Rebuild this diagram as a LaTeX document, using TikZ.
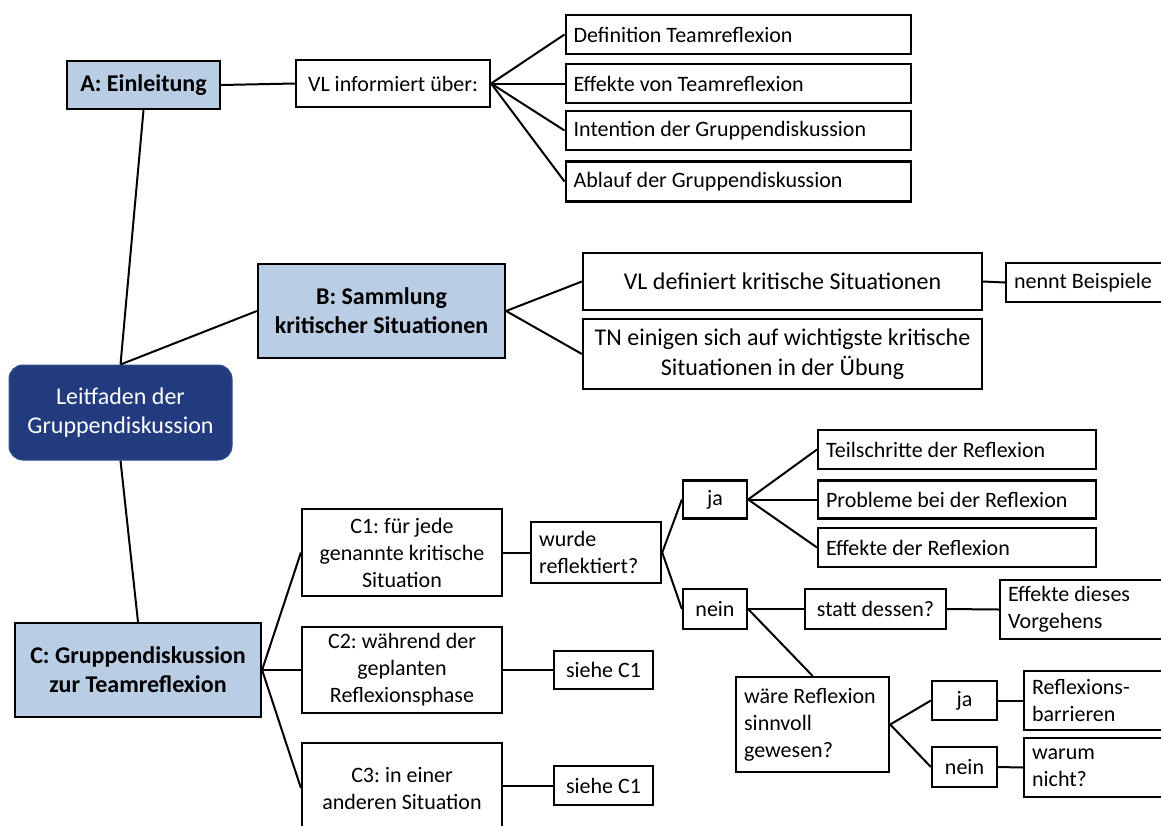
\documentclass[tikz,border=0pt]{standalone}
\usepackage{fontspec}
\setmainfont{Carlito}
\definecolor{headfill}{HTML}{B9CDE5}
\definecolor{rootfill}{HTML}{223A7E}
\definecolor{rootline}{HTML}{2F528F}
\begin{document}
\frenchspacing
\begin{tikzpicture}[x=1pt,y=-1pt,
  box/.style={draw=black, line width=2.2pt, fill=white, inner sep=0pt, align=flush center,
    font=\fontsize{22}{27}\selectfont},
  bigbox/.style={box, font=\fontsize{24}{29.5}\selectfont},
  headbox/.style={box, fill=headfill, font=\bfseries\fontsize{24}{29}\selectfont},
  rootbox/.style={draw=rootline, line width=1pt, fill=rootfill, rounded corners=14pt,
    inner sep=0pt, align=flush center, text=white, font=\fontsize{24}{29}\selectfont},
  lbox/.style={box, align=flush left, anchor=west, inner xsep=8pt},
  link/.style={line width=2pt}]
\useasboundingbox (0,0) rectangle (1161,825);
\fill[white] (0,0) rectangle (1161,825);
\clip (0,0) rectangle (1161,825);

% root
\node[rootbox, minimum width=223pt, minimum height=95pt] (root) at (120.5,412.5)
  {Leitfaden der\\Gruppendiskussion};

% section A
\node[headbox, minimum width=153pt, minimum height=48pt] (A) at (143.5,85) {A: Einleitung};
\node[box, minimum width=194pt, minimum height=47pt] (vlinf) at (393,83.5) {VL informiert über:};
\node[lbox, text width=329pt, minimum height=39pt] (def) at (564.5,34.5) {Definition Teamreflexion};
\node[lbox, text width=329pt, minimum height=39pt] (efftr) at (564.5,83.5) {Effekte von Teamreflexion};
\node[lbox, text width=329pt, minimum height=39pt] (intent) at (564.5,130.5) {Intention der Gruppendiskussion};
\node[lbox, text width=329pt, minimum height=40pt] (ablauf) at (564.5,181.5) {Ablauf der Gruppendiskussion};

% section B
\node[headbox, minimum width=247pt, minimum height=94pt] (B) at (381.5,311) {B: Sammlung\\kritischer Situationen};
\node[bigbox, minimum width=399pt, minimum height=57pt] (vldef) at (782.5,281.5) {VL definiert kritische Situationen};
\node[bigbox, minimum width=399pt, minimum height=70pt] (tn) at (782.5,354) {TN einigen sich auf wichtigste kritische\\Situationen in der Übung};
\node[lbox, text width=184pt, minimum height=39pt] (bsp) at (1005,282.5) {nennt Beispiele};

% section C
\node[headbox, minimum width=246pt, minimum height=94pt] (C) at (138,670) {C: Gruppendiskussion\\zur Teamreflexion};
\node[box, minimum width=200pt, minimum height=87pt] (c1) at (402,552.5) {C1: für jede\\genannte kritische\\Situation};
\node[box, minimum width=200pt, minimum height=86pt] (c2) at (402,670) {C2: während der\\geplanten\\Reflexionsphase};
\node[box, minimum width=200pt, minimum height=90pt] (c3) at (402,788) {C3: in einer\\anderen Situation};
\node[box, minimum width=99pt, minimum height=38pt] (see2) at (603.5,670) {siehe C1};
\node[box, minimum width=99pt, minimum height=39pt] (see3) at (603.5,785.5) {siehe C1};

\node[lbox, text width=114pt, minimum height=61pt] (wurde) at (530,552.5) {wurde\\reflektiert?};
\node[box, minimum width=64pt, minimum height=38pt] (ja) at (715,499.5) {ja};
\node[box, minimum width=64pt, minimum height=40pt] (nein) at (715,609) {nein};
\node[lbox, text width=262pt, minimum height=39pt] (teil) at (817,449.5) {Teilschritte der Reflexion};
\node[lbox, text width=262pt, minimum height=38pt] (probl) at (817,499.5) {Probleme bei der Reflexion};
\node[lbox, text width=262pt, minimum height=39pt] (effref) at (817,547.5) {Effekte der Reflexion};
\node[box, minimum width=141pt, minimum height=40pt] (statt) at (875.5,609) {statt dessen?};
\node[lbox, text width=184pt, minimum height=59pt] (effvor) at (999,609.5) {Effekte dieses\\Vorgehens};
\node[lbox, text width=137pt, minimum height=95pt] (waere) at (735,724.5) {wäre Reflexion\\sinnvoll\\gewesen?};
\node[box, minimum width=65pt, minimum height=39pt] (ja2) at (964.5,700.5) {ja};
\node[box, minimum width=65pt, minimum height=40pt] (nein2) at (964.5,767) {nein};
\node[lbox, text width=184pt, minimum height=59pt] (barr) at (1023,700.5) {Reflexions-\\barrieren};
\node[lbox, text width=184pt, minimum height=59pt] (warum) at (1023,767.5) {warum\\nicht?};

% connectors
\draw[link] (root.north) -- (A.south);
\draw[link] (root.north) -- (B.west);
\draw[link] (root.south) -- (C.north);

\draw[link] (A.east) -- (vlinf.west);
\foreach \t in {def,efftr,intent,ablauf} \draw[link] (vlinf.east) -- (\t.west);

\draw[link] (B.east) -- (vldef.west);
\draw[link] (B.east) -- (tn.west);
\draw[link] (vldef.east) -- (bsp.west);

\foreach \t in {c1,c2,c3} \draw[link] (C.east) -- (\t.west);
\draw[link] (c1.east) -- (wurde.west);
\draw[link] (c2.east) -- (see2.west);
\draw[link] (see3.west -| c3.east) -- (see3.west);

\draw[link] (wurde.east) -- (ja.west);
\draw[link] (wurde.east) -- (nein.west);
\foreach \t in {teil,probl,effref} \draw[link] (ja.east) -- (\t.west);
\draw[link] (nein.east) -- (statt.west);
\draw[link] (statt.east) -- (effvor.west);
\draw[link] (nein.east) -- (waere.north);
\draw[link] (waere.east) -- (ja2.west);
\draw[link] (waere.east) -- (nein2.west);
\draw[link] (ja2.east) -- (barr.west);
\draw[link] (nein2.east) -- (warum.west);
\end{tikzpicture}
\end{document}
